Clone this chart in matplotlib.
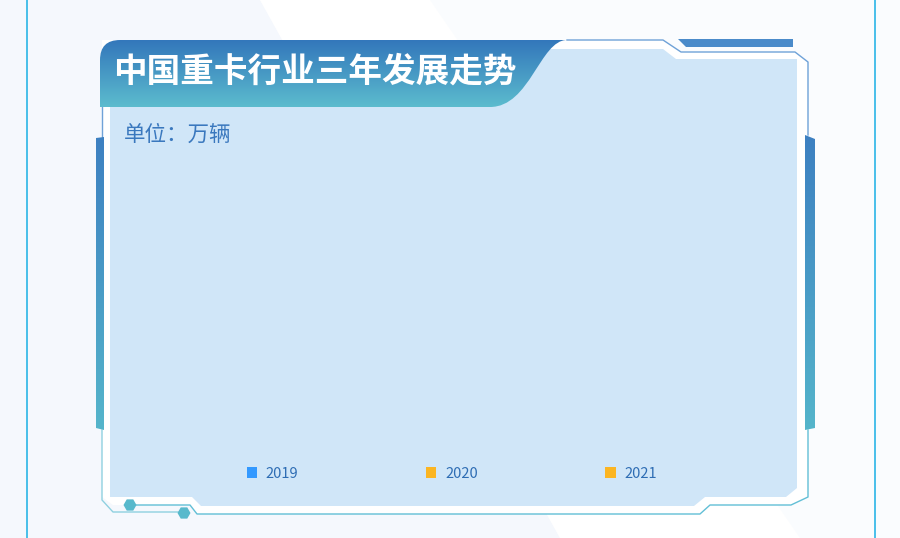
import numpy as np
import matplotlib
matplotlib.use("Agg")
import matplotlib.pyplot as plt
from matplotlib.patches import Polygon, PathPatch, RegularPolygon, Patch
from matplotlib.path import Path
from matplotlib.colors import LinearSegmentedColormap

plt.rcParams['font.family'] = ['Noto Sans CJK SC', 'DejaVu Sans']

# ---- data ----
title = "中国重卡行业三年发展走势"
unit_label = "单位：万辆"
categories = []                       # no categories shown in the reference
series_names = ["2019", "2020", "2021"]
series_values = {"2019": [], "2020": [], "2021": []}
series_colors = {"2019": "#3399FF", "2020": "#FBB522", "2021": "#FBB522"}

W, H = 900, 538
fig = plt.figure(figsize=(W / 100, H / 100), dpi=100)
fig.patch.set_facecolor("#FAFCFE")

# decoration layer in pixel coordinates
deco = fig.add_axes([0, 0, 1, 1])
deco.set_xlim(0, W)
deco.set_ylim(H, 0)
deco.axis("off")


def vgrad(ax, clip_patch, y0, y1, c0, c1, x0=0, x1=W, z=1):
    cmap = LinearSegmentedColormap.from_list("g", [c0, c1])
    grad = np.linspace(0, 1, 256).reshape(-1, 1)
    im = ax.imshow(grad, cmap=cmap, extent=(x0, x1, y1, y0), aspect="auto",
                   zorder=z, interpolation="bilinear")
    ax.add_patch(clip_patch)
    clip_patch.set_visible(False)
    im.set_clip_path(clip_patch)
    ax.set_xlim(0, W)
    ax.set_ylim(H, 0)


# background: soft diagonal white stripe
deco.add_patch(Polygon([(0, 0), (260, 0), (560, 538), (0, 538)], closed=True,
                       facecolor="#F5F8FD", edgecolor="none", zorder=0))
deco.add_patch(Polygon([(260, 0), (430, 0), (800, 538), (560, 538)], closed=True,
                       facecolor="#FFFFFF", edgecolor="none", zorder=0))

# outer vertical lines
deco.plot([27, 27], [0, H], color="#2BB5E6", lw=1.2, zorder=1)
deco.plot([875, 875], [0, H], color="#2BB5E6", lw=1.2, zorder=1)

# white frame backing
deco.add_patch(Polygon([(102, 40), (663, 40), (680, 52), (795, 52), (808, 62),
                        (808, 497), (791, 505), (710, 505), (700, 514),
                        (197, 514), (190, 505), (113, 505), (102, 497)],
                       closed=True, facecolor="#FFFFFF", edgecolor="none", zorder=1))

# panel fill
deco.add_patch(Polygon([(110, 49), (663, 49), (676, 59), (797, 59), (797, 488),
                        (786, 497), (705, 497), (694, 506), (201, 506),
                        (192, 497), (110, 497)], closed=True,
                       facecolor="#D0E6F8", edgecolor="none", zorder=2))

# frame lines
deco.plot([567, 663, 681, 795, 808, 808], [40, 40, 52, 52, 62, 135],
          color="#6FA2D8", lw=1.0, zorder=3)
deco.plot([808, 808, 791, 710, 700, 197, 190, 136],
          [430, 497, 505, 505, 514, 514, 505, 505],
          color="#62BFD6", lw=1.0, zorder=3)
deco.plot([102, 102], [100, 137], color="#6FA2D8", lw=1.0, zorder=3)
deco.plot([102, 102, 113, 178], [430, 500, 512, 512],
          color="#8FD0E0", lw=1.0, zorder=3)

# hexagon dots
for cx, cy in [(130, 505), (184, 513)]:
    deco.add_patch(RegularPolygon((cx, cy), numVertices=6, radius=6.5,
                                  orientation=np.pi / 2, facecolor="#58B9CC",
                                  edgecolor="none", zorder=4))

# top right dark strip
deco.add_patch(Polygon([(678, 39), (793, 39), (793, 47), (686, 47)], closed=True,
                       facecolor="#4A8BCA", edgecolor="none", zorder=4))

# side bars with gradient
lb = Polygon([(96, 138), (104, 137), (104, 430), (96, 428)], closed=True,
             transform=deco.transData)
vgrad(deco, lb, 137, 430, "#3D80C1", "#55B5CB", 90, 110, z=4)
rb = Polygon([(805, 135), (815, 139), (815, 428), (805, 430)], closed=True,
             transform=deco.transData)
vgrad(deco, rb, 135, 430, "#3D80C1", "#55B5CB", 800, 820, z=4)

# title banner
verts = [(100, 107), (100, 60), (100, 40), (120, 40), (567, 40),
         (540, 40), (530, 107), (490, 107), (100, 107)]
codes = [Path.MOVETO, Path.LINETO, Path.CURVE3, Path.CURVE3, Path.LINETO,
         Path.CURVE4, Path.CURVE4, Path.CURVE4, Path.CLOSEPOLY]
banner = PathPatch(Path(verts, codes), transform=deco.transData)
vgrad(deco, banner, 40, 107, "#3377BB", "#5CBCCE", 95, 575, z=5)

deco.text(113, 72, title, color="white", fontsize=24.2, fontweight="bold",
          ha="left", va="center", zorder=6)
deco.text(124, 135, unit_label, color="#3A78BE", fontsize=15.5,
          ha="left", va="center", zorder=6)

# ---- chart axes (empty data) ----
ax = fig.add_axes([125 / W, 1 - 440 / H, 655 / W, 280 / H])
ax.patch.set_alpha(0)
x = np.arange(len(categories))
bw = 0.25
for i, name in enumerate(series_names):
    ax.bar(x + (i - 1) * bw, series_values[name], width=bw,
           color=series_colors[name], label=name)
ax.axis("off")

handles = [Patch(facecolor=series_colors[n], edgecolor="none", label=n)
           for n in series_names]
leg = fig.legend(handles=handles, labels=series_names, loc="center",
                 bbox_to_anchor=(452 / W, 1 - 473.5 / H), ncol=3, frameon=False,
                 fontsize=10.5, handlelength=0.7, handleheight=0.7,
                 handletextpad=0.6, columnspacing=8.75)
for t in leg.get_texts():
    t.set_color("#2E6DB4")

fig.savefig("out.png", dpi=100, facecolor=fig.get_facecolor())
